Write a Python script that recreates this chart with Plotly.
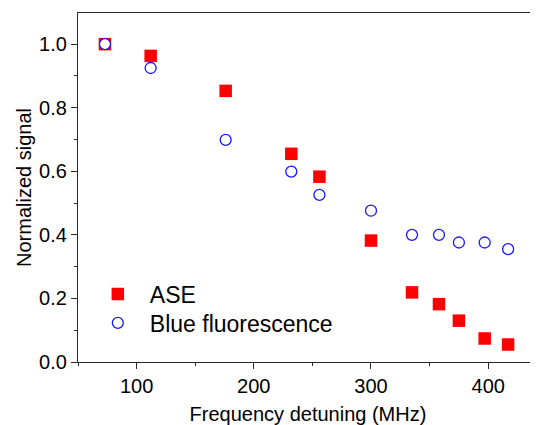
import plotly.graph_objects as go

# Frequency detuning (MHz)
detuning = [73, 112, 176, 232, 256, 300, 335, 358, 375, 397, 417]

# Normalized signals
ase = [1.0, 0.963, 0.853, 0.655, 0.583, 0.382, 0.219, 0.182, 0.130, 0.074, 0.055]
blue_fluo = [1.0, 0.925, 0.699, 0.599, 0.526, 0.476, 0.400, 0.400, 0.376, 0.376, 0.355]

x_ticks = [100, 200, 300, 400]
y_ticks = [0.0, 0.2, 0.4, 0.6, 0.8, 1.0]

font_name = "Liberation Sans, Arial, sans-serif"

fig = go.Figure()

fig.add_trace(go.Scatter(
    x=detuning, y=ase, name="ASE", mode="markers", legend="legend",
    marker=dict(symbol="square", size=12.5, color="rgb(255,0,0)",
                line=dict(width=0))))

fig.add_trace(go.Scatter(
    x=detuning, y=blue_fluo, name="Blue fluorescence", mode="markers",
    legend="legend2",
    marker=dict(symbol="circle", size=11, color="white",
                line=dict(width=1.3, color="rgb(25,25,255)"))))

axis_common = dict(
    showgrid=False, zeroline=False,
    showline=True, linecolor="rgb(40,40,40)", linewidth=1.3,
    ticks="outside", ticklen=6, tickwidth=1.3, tickcolor="rgb(40,40,40)",
    tickfont=dict(size=20, color="black", family=font_name),
)

fig.update_xaxes(
    **axis_common,
    range=[50, 442.5], tickvals=x_ticks, mirror=True,
    minor=dict(ticks="outside", ticklen=3, dtick=50, tick0=50,
               tickcolor="rgb(40,40,40)"),
    title=dict(text="Frequency detuning (MHz)", standoff=13,
               font=dict(size=20, color="black", family=font_name)))

fig.update_yaxes(
    **axis_common,
    range=[0, 1.098], tickvals=y_ticks, tickformat=".1f",
    minor=dict(ticks="outside", ticklen=3, dtick=0.1, tick0=0,
               tickcolor="rgb(40,40,40)"),
    title=dict(text="Normalized signal", standoff=2,
               font=dict(size=20, color="black", family=font_name)))

# the page adds an 8px body margin, so the figure is 8px smaller
legend_style = dict(xanchor="left", yanchor="middle",
                    bgcolor="rgba(0,0,0,0)",
                    font=dict(size=23, color="black", family=font_name),
                    itemwidth=54)

fig.update_layout(
    width=530, height=417,
    margin=dict(l=70, r=0, t=5, b=63),
    plot_bgcolor="white", paper_bgcolor="white",
    font=dict(family=font_name, color="black"),
    showlegend=True,
    legend=dict(x=0.017, y=0.195, **legend_style),
    legend2=dict(x=0.017, y=0.112, **legend_style),
)

fig.write_html("out.html")
